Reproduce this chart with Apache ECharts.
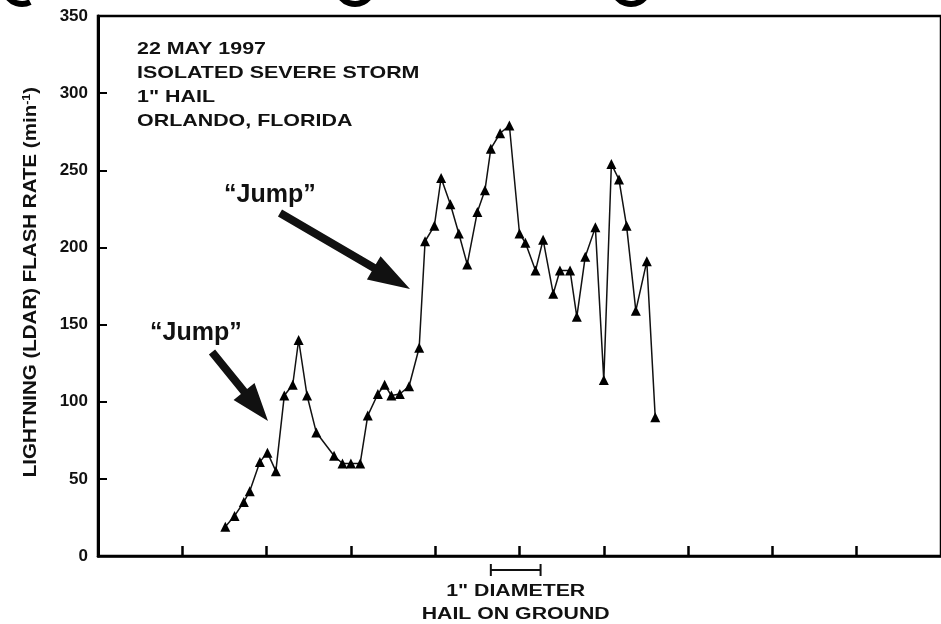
<!DOCTYPE html>
<html>
<head>
<meta charset="utf-8">
<script src="https://cdn.jsdelivr.net/npm/echarts@6/dist/echarts.min.js"></script>
<style>
  html, body { margin: 0; padding: 0; background: #fff; }
  #chart { width: 941px; height: 624px; }
</style>
</head>
<body>
<div id="chart"></div>
<script>
// LDAR total flash rate, isolated severe storm, Orlando FL, 22 May 1997
const times = [1.51, 1.62, 1.73, 1.80, 1.92, 2.01, 2.11, 2.21, 2.31, 2.38, 2.48, 2.59,
  2.80, 2.90, 3.00, 3.11, 3.20, 3.32, 3.40, 3.48, 3.58, 3.69, 3.81, 3.88, 3.99,
  4.07, 4.18, 4.28, 4.38, 4.50, 4.59, 4.66, 4.77, 4.88, 5.00, 5.07, 5.19, 5.28,
  5.40, 5.48, 5.60, 5.68, 5.78, 5.90, 6.00, 6.09, 6.18, 6.27, 6.38, 6.51, 6.61];
const flashRate = [19, 26, 35, 42, 61, 67, 55, 104, 111, 140, 104, 80,
  65, 60, 60, 60, 91, 105, 111, 104, 105, 110, 135, 204, 214,
  245, 228, 209, 189, 223, 237, 264, 274, 279, 209, 203, 185, 205,
  170, 185, 185, 155, 194, 213, 114, 254, 244, 214, 159, 191, 90];
const yTicks = [0, 50, 100, 150, 200, 250, 300, 350];
const hailOnGround = [4.66, 5.25];
const headerLines = ['22 MAY 1997', 'ISOLATED SEVERE STORM', '1" HAIL', 'ORLANDO, FLORIDA'];

const FONT = '"Liberation Sans", Arial, Helvetica, sans-serif';
const chart = echarts.init(document.getElementById('chart'), null, { renderer: 'canvas' });

const points = times.map((t, i) => [t, flashRate[i]]);

chart.setOption({
  animation: false,
  backgroundColor: '#fff',
  grid: {
    left: 98, top: 16, width: 848, height: 540,
    show: true, borderColor: '#000', borderWidth: 2.5, backgroundColor: 'transparent'
  },
  xAxis: {
    type: 'value', min: 0, max: 10, interval: 1,
    axisLine: { show: true, lineStyle: { color: '#000', width: 2.5 } },
    axisTick: { show: true, inside: true, length: 10, lineStyle: { color: '#000', width: 2.5 } },
    axisLabel: { show: false },
    splitLine: { show: false }
  },
  yAxis: {
    type: 'value', min: yTicks[0], max: yTicks[yTicks.length - 1], interval: 50,
    axisLine: { show: true, lineStyle: { color: '#000', width: 3 } },
    axisTick: { show: true, inside: true, length: 9, lineStyle: { color: '#000', width: 2 } },
    axisLabel: {
      margin: 10, fontFamily: FONT, fontWeight: 'bold', fontSize: 17, color: '#111',
      formatter: v => yTicks.includes(v) ? String(v) : ''
    },
    splitLine: { show: false }
  },
  series: [{
    type: 'line',
    data: points,
    symbol: 'triangle',
    symbolSize: 10,
    itemStyle: { color: '#000' },
    lineStyle: { color: '#111', width: 1.5 },
    clip: false
  }]
});

// Arrow polygon from tail to tip
function arrow(tail, tip, shaftW, headLen, headW) {
  const dx = tip[0] - tail[0], dy = tip[1] - tail[1];
  const len = Math.hypot(dx, dy);
  const ux = dx / len, uy = dy / len, nx = -uy, ny = ux;
  const bx = tip[0] - ux * headLen, by = tip[1] - uy * headLen;
  return [
    [tail[0] + nx * shaftW / 2, tail[1] + ny * shaftW / 2],
    [bx + nx * shaftW / 2, by + ny * shaftW / 2],
    [bx + nx * headW / 2, by + ny * headW / 2],
    tip,
    [bx - nx * headW / 2, by - ny * headW / 2],
    [bx - nx * shaftW / 2, by - ny * shaftW / 2],
    [tail[0] - nx * shaftW / 2, tail[1] - ny * shaftW / 2]
  ];
}

const hx0 = chart.convertToPixel({ gridIndex: 0 }, [hailOnGround[0], 0])[0];
const hx1 = chart.convertToPixel({ gridIndex: 0 }, [hailOnGround[1], 0])[0];
const hy = 570;
const hcx = (hx0 + hx1) / 2;

const txt = (s, size, extra) => Object.assign({
  text: s, fontFamily: FONT, fontWeight: 'bold', fontSize: size, fill: '#111',
  textVerticalAlign: 'middle'
}, extra || {});

const graphics = [];
headerLines.forEach((s, i) => {
  graphics.push({ type: 'text', x: 137, y: 49 + i * 24, scaleX: 1.26, style: txt(s, 17) });
});
graphics.push(
  // y-axis title
  {
    type: 'text', x: 31, y: 282, rotation: Math.PI / 2, scaleX: 1.14,
    style: txt('LIGHTNING (LDAR) FLASH RATE (min{sup|-1})', 18, {
      textAlign: 'center',
      rich: { sup: { fontFamily: FONT, fontWeight: 'bold', fontSize: 11, fill: '#111', padding: [0, 0, 9, 0] } }
    })
  },
  { type: 'text', x: 224, y: 195, style: txt('\u201cJump\u201d', 25) },
  { type: 'text', x: 150, y: 333, style: txt('\u201cJump\u201d', 25) },
  { type: 'polygon', shape: { points: arrow([280, 213], [410, 289], 8, 42, 27) }, style: { fill: '#111' } },
  { type: 'polygon', shape: { points: arrow([212, 352], [268, 421], 8, 38, 27) }, style: { fill: '#111' } },
  { type: 'line', shape: { x1: hx0, y1: hy, x2: hx1, y2: hy }, style: { stroke: '#111', lineWidth: 2 } },
  { type: 'line', shape: { x1: hx0, y1: hy - 6, x2: hx0, y2: hy + 6 }, style: { stroke: '#111', lineWidth: 2 } },
  { type: 'line', shape: { x1: hx1, y1: hy - 6, x2: hx1, y2: hy + 6 }, style: { stroke: '#111', lineWidth: 2 } },
  { type: 'text', x: hcx, y: 592, scaleX: 1.33, style: txt('1" DIAMETER', 16, { textAlign: 'center' }) },
  { type: 'text', x: hcx, y: 615, scaleX: 1.33, style: txt('HAIL ON GROUND', 16, { textAlign: 'center' }) },
  // shapes cut off along the top edge
  { type: 'arc', shape: { cx: 22, cy: -14, r: 18, startAngle: Math.PI * 0.35, endAngle: Math.PI * 1.0 }, style: { stroke: '#000', lineWidth: 6, fill: 'none' } },
  { type: 'arc', shape: { cx: 355, cy: -14, r: 18, startAngle: Math.PI * 0.1, endAngle: Math.PI * 0.9 }, style: { stroke: '#000', lineWidth: 6, fill: 'none' } },
  { type: 'arc', shape: { cx: 631, cy: -14, r: 18, startAngle: Math.PI * 0.1, endAngle: Math.PI * 0.9 }, style: { stroke: '#000', lineWidth: 6, fill: 'none' } }
);
chart.setOption({ graphic: graphics });
</script>
</body>
</html>
